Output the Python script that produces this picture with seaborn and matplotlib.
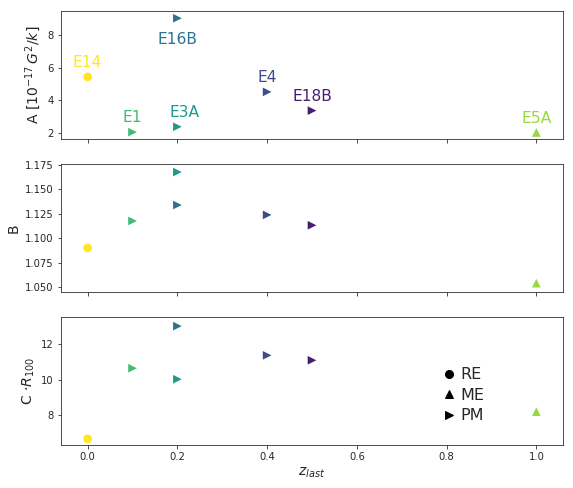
import numpy as np
import pandas as pd
import seaborn as sns
import matplotlib
matplotlib.use('Agg')
import matplotlib.pyplot as plt
from matplotlib.lines import Line2D

# data
names = ['E14', 'E1', 'E3A', 'E16B', 'E4', 'E18B', 'E5A']
z_last = [0.0, 0.1, 0.2, 0.2, 0.4, 0.5, 1.0]
kind = ['RE', 'PM', 'PM', 'PM', 'PM', 'PM', 'ME']
A_vals = [5.43, 2.04, 2.37, 9.03, 4.51, 3.36, 2.02]
B_vals = [1.090, 1.1176, 1.1676, 1.1339, 1.1238, 1.1132, 1.054]
C_vals = [6.66, 10.65, 10.03, 13.03, 11.38, 11.10, 8.2]
# colour order (viridis, dark -> light)
color_order = ['E18B', 'E4', 'E16B', 'E3A', 'E1', 'E5A', 'E14']

df = pd.DataFrame({'name': names, 'z': z_last, 'kind': kind,
                   'A': A_vals, 'B': B_vals, 'C': C_vals})

sns.set_style('ticks')
cmap = plt.get_cmap('viridis')
pal = {n: cmap(v) for n, v in zip(color_order, np.linspace(0.08, 1, len(color_order)))}
markers = {'RE': 'o', 'ME': '^', 'PM': '>'}

fig, axes = plt.subplots(3, 1, figsize=(573 / 72, 488 / 72), dpi=72, sharex=True)
fig.subplots_adjust(left=0.106, right=0.983, top=0.977, bottom=0.088, hspace=0.2)

for ax, col in zip(axes, ['A', 'B', 'C']):
    sns.scatterplot(data=df, x='z', y=col, hue='name', palette=pal,
                    style='kind', markers=markers, s=75, linewidth=0,
                    ax=ax, legend=False)
    ax.tick_params(labelsize=10)
    ax.set_xlabel('')

# labels on the top panel
label_dy = {'E16B': -1.28}
for n, x, y in zip(names, z_last, A_vals):
    dx = 0.015 if n == 'E3A' else 0.0
    axes[0].text(x + dx, y + label_dy.get(n, 0.87), n, color=pal[n], fontsize=15.5,
                 ha='center', va='center')

axes[0].set_ylim(1.63, 9.46)
axes[0].set_yticks([2, 4, 6, 8])
axes[0].set_ylabel(r'A [$10^{-17}\,G^2/k$]', fontsize=14)

axes[1].set_ylim(1.045, 1.1755)
axes[1].set_yticks([1.050, 1.075, 1.100, 1.125, 1.150, 1.175])
axes[1].yaxis.set_major_formatter(matplotlib.ticker.FormatStrFormatter('%.3f'))
axes[1].set_ylabel('B', fontsize=14)

axes[2].set_ylim(6.31, 13.52)
axes[2].set_yticks([8, 10, 12])
axes[2].set_ylabel(r'C $\cdot R_{100}$', fontsize=14)
axes[2].set_xlim(-0.06, 1.06)
axes[2].set_xticks([0.0, 0.2, 0.4, 0.6, 0.8, 1.0])
axes[2].set_xlabel(r'$z_{last}$', fontsize=14)

handles = [Line2D([], [], marker=markers[k], color='black', linestyle='',
                   markersize=8) for k in ['RE', 'ME', 'PM']]
axes[2].legend(handles, ['RE', 'ME', 'PM'], loc='center', bbox_to_anchor=(0.80, 0.39),
               frameon=False, fontsize=16, handletextpad=0.2, labelspacing=0.35,
               handlelength=1.0)

plt.savefig('out.png', dpi=72)
